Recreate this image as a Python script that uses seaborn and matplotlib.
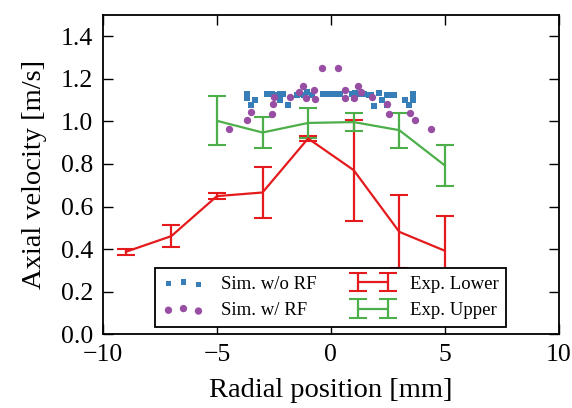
import matplotlib
matplotlib.use("Agg")
import matplotlib.pyplot as plt
import seaborn as sns
import pandas as pd
import numpy as np

# Simulation without RF
sim_norf_x = [-3.68, -3.68, -3.35, -3.51, -2.8, -2.6, -2.4, -2.22, -2.1, -2.22, -1.9,
              -1.5, -1.35, -1.2, -1.05, -0.85, -0.33, -0.15, 0.05, 0.25, 0.41,
              0.93, 1.05, 1.2, 1.0, 1.45, 1.65, 1.74, 1.88, 2.09, 2.25, 2.47, 2.47, 2.62, 2.75,
              3.27, 3.42, 3.61, 3.61]
sim_norf_v = [1.131, 1.110, 1.100, 1.077, 1.127, 1.127, 1.125, 1.100, 1.131, 1.127, 1.077,
              1.125, 1.127, 1.123, 1.139, 1.125, 1.131, 1.127, 1.131, 1.129, 1.127,
              1.131, 1.133, 1.131, 1.108, 1.127, 1.125, 1.123, 1.073, 1.136, 1.103, 1.123, 1.077, 1.125, 1.123,
              1.100, 1.077, 1.127, 1.103]

# Simulation with RF
sim_rf_x = [-0.39, 0.30, -1.24, -0.73, -1.38, -1.08, -0.71, -1.81, -2.48, -2.54, -2.57,
            -3.51, -3.66, -4.45, 0.61, 1.18, 1.34, 0.61, 1.03, 1.81, 2.44, 2.57,
            3.45, 3.68, 4.37]
sim_rf_v = [1.249, 1.249, 1.167, 1.150, 1.139, 1.108, 1.105, 1.116, 1.116, 1.081, 1.034,
            1.044, 1.006, 0.964, 1.150, 1.167, 1.139, 1.108, 1.108, 1.116, 1.081, 1.034,
            1.040, 1.006, 0.964]

# Experiments
exp_lower_x = [-9, -7, -5, -3, -1, 1, 3, 5]
exp_lower_v = [0.387, 0.461, 0.649, 0.666, 0.920, 0.771, 0.481, 0.392]
exp_lower_err = [0.013, 0.053, 0.014, 0.120, 0.010, 0.238, 0.172, 0.163]

exp_upper_x = [-5, -3, -1, 1, 3, 5]
exp_upper_v = [1.003, 0.948, 0.993, 0.997, 0.959, 0.793]
exp_upper_err = [0.116, 0.074, 0.070, 0.041, 0.083, 0.097]

x_ticks = [-10, -5, 0, 5, 10]
y_ticks = [0.0, 0.2, 0.4, 0.6, 0.8, 1.0, 1.2, 1.4]

sns.set_style("ticks", {"xtick.direction": "in", "ytick.direction": "in"})
plt.rcParams["font.family"] = ["Liberation Serif", "DejaVu Serif"]
plt.rcParams["xtick.top"] = True
plt.rcParams["ytick.right"] = True
plt.rcParams["text.color"] = "black"
plt.rcParams["axes.labelcolor"] = "black"

pal = sns.color_palette("Set1")
red, blue, green, purple = pal[0], pal[1], pal[2], pal[3]

fig = plt.figure(figsize=(5.72, 4.08), dpi=100)
ax = fig.add_axes([0.180, 0.181, 0.797, 0.782])

df_norf = pd.DataFrame({"x": sim_norf_x, "v": sim_norf_v})
df_rf = pd.DataFrame({"x": sim_rf_x, "v": sim_rf_v})

sns.scatterplot(data=df_norf, x="x", y="v", ax=ax, color=blue, marker="s",
                s=14, linewidth=0, label="Sim. w/o RF", zorder=3)
sns.scatterplot(data=df_rf, x="x", y="v", ax=ax, color=purple, marker="o",
                s=28, linewidth=0, label="Sim. w/ RF", zorder=3)

h_low = ax.errorbar(exp_lower_x, exp_lower_v, yerr=exp_lower_err, color=red,
                    lw=1.6, capsize=6.5, capthick=1.5, label="Exp. Lower", zorder=2)
h_up = ax.errorbar(exp_upper_x, exp_upper_v, yerr=exp_upper_err, color=green,
                   lw=1.6, capsize=6.5, capthick=1.5, label="Exp. Upper", zorder=2)

ax.set_xlim(-10, 10)
ax.set_ylim(0, 1.5)
ax.set_xticks(x_ticks)
ax.set_yticks(y_ticks)
ax.set_yticklabels([f"{t:.1f}" for t in y_ticks])
ax.tick_params(which="major", length=7, width=1, labelsize=18.5, colors="black", pad=7)
for sp in ax.spines.values():
    sp.set_linewidth(1.3)
    sp.set_color("black")

ax.set_xlabel("Radial position [mm]", fontsize=20.5, labelpad=9, color="black")
ax.set_ylabel("Axial velocity [m/s]", fontsize=20.5, labelpad=10, color="black")

handles, labels = ax.get_legend_handles_labels()
order = ["Sim. w/o RF", "Sim. w/ RF", "Exp. Lower", "Exp. Upper"]
hmap = dict(zip(labels, handles))
leg = ax.legend([hmap[l] for l in order], order, loc="lower center", ncol=2,
                fontsize=13.5, frameon=True, fancybox=False, framealpha=1,
                edgecolor="black", scatterpoints=3, numpoints=2,
                columnspacing=1.9, handlelength=2.2, handletextpad=0.9,
                borderaxespad=0.4, labelcolor="black")
leg.get_frame().set_linewidth(1.3)

fig.savefig("out.png", dpi=100)
